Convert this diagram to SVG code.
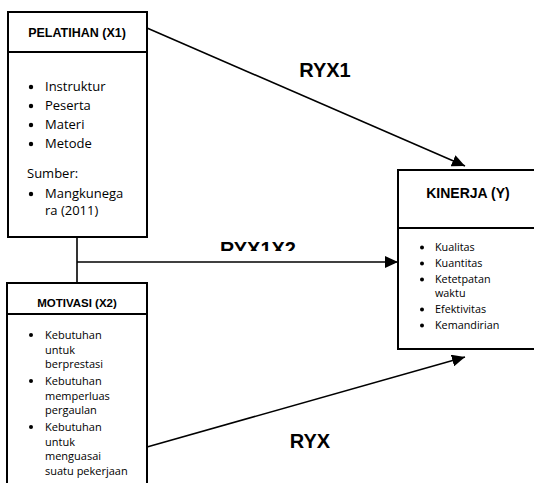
<svg xmlns="http://www.w3.org/2000/svg" width="534" height="483" viewBox="0 0 534 483">
<defs>
<marker id="ah" markerUnits="userSpaceOnUse" markerWidth="14" markerHeight="12" refX="13" refY="6" orient="auto">
<path d="M0,0 L13,6 L0,12 z" fill="#000"/>
</marker>
<clipPath id="clipLbl"><rect x="200" y="230" width="120" height="21"/></clipPath>
<clipPath id="clipMot"><rect x="0" y="300" width="160" height="178"/></clipPath>
</defs>
<style>
.box{fill:#fff;stroke:#000;stroke-width:2}
.div{stroke:#000;stroke-width:2}
.title{font-family:"Liberation Sans",Arial,sans-serif;font-weight:bold;text-anchor:middle;fill:#000}
.body{font-family:"Open Sans","Liberation Sans",sans-serif;fill:#000}
.lbl{font-family:"Liberation Sans",Arial,sans-serif;font-weight:bold;font-size:20px;text-anchor:middle;fill:#000}
.conn{stroke:#000;stroke-width:1.6;fill:none}
</style>
<rect width="534" height="483" fill="#fff"/>

<g id="connectors">
<line class="conn" x1="77" y1="237" x2="77" y2="283"/>
<line class="conn" x1="77" y1="262" x2="398" y2="262" marker-end="url(#ah)"/>
<line class="conn" x1="147" y1="28" x2="465" y2="166" marker-end="url(#ah)"/>
<line class="conn" x1="147" y1="447" x2="465" y2="357" marker-end="url(#ah)"/>
<text class="lbl" x="325" y="77">RYX1</text>
<text class="lbl" x="258" y="256" clip-path="url(#clipLbl)">RYX1X2</text>
<text class="lbl" x="310" y="448">RYX</text>
</g>

<g id="pelatihan">
<rect class="box" x="8" y="12" width="139" height="225"/>
<line class="div" x1="8" y1="52" x2="147" y2="52"/>
<text class="title" x="77" y="37" font-size="12.5">PELATIHAN (X1)</text>
<g class="body" font-size="13">
<circle cx="31" cy="87" r="2.2"/><text x="45" y="91">Instruktur</text>
<circle cx="31" cy="106" r="2.2"/><text x="45" y="110">Peserta</text>
<circle cx="31" cy="125" r="2.2"/><text x="45" y="129">Materi</text>
<circle cx="31" cy="144" r="2.2"/><text x="45" y="148">Metode</text>
<text x="27" y="178">Sumber:</text>
<circle cx="31" cy="194" r="2.2"/><text x="45" y="198">Mangkunega</text>
<text x="45" y="215">ra (2011)</text>
</g>
</g>

<g id="motivasi">
<rect class="box" x="7" y="283" width="140" height="220"/>
<line class="div" x1="7" y1="314" x2="147" y2="314"/>
<text class="title" x="77" y="307" font-size="11.5">MOTIVASI (X2)</text>
<g class="body" font-size="11" clip-path="url(#clipMot)">
<circle cx="31" cy="335" r="2"/><text x="45" y="339">Kebutuhan</text>
<text x="45" y="353.5">untuk</text>
<text x="45" y="368">berprestasi</text>
<circle cx="31" cy="381" r="2"/><text x="45" y="385">Kebutuhan</text>
<text x="45" y="399.5">memperluas</text>
<text x="45" y="414">pergaulan</text>
<circle cx="31" cy="427" r="2"/><text x="45" y="431">Kebutuhan</text>
<text x="45" y="445.5">untuk</text>
<text x="45" y="460">menguasai</text>
<text x="45" y="475">suatu pekerjaan</text>
</g>
</g>

<g id="kinerja">
<rect class="box" x="398" y="170" width="142" height="179"/>
<line class="div" x1="398" y1="228" x2="540" y2="228"/>
<text class="title" x="468" y="198" font-size="14">KINERJA (Y)</text>
<g class="body" font-size="10.8">
<circle cx="422" cy="247.5" r="2"/><text x="435" y="251">Kualitas</text>
<circle cx="422" cy="263.5" r="2"/><text x="435" y="267">Kuantitas</text>
<circle cx="422" cy="279.5" r="2"/><text x="435" y="283">Ketetpatan</text>
<text x="435" y="297">waktu</text>
<circle cx="422" cy="309.5" r="2"/><text x="435" y="313">Efektivitas</text>
<circle cx="422" cy="325.5" r="2"/><text x="435" y="329">Kemandirian</text>
</g>
</g>
</svg>
